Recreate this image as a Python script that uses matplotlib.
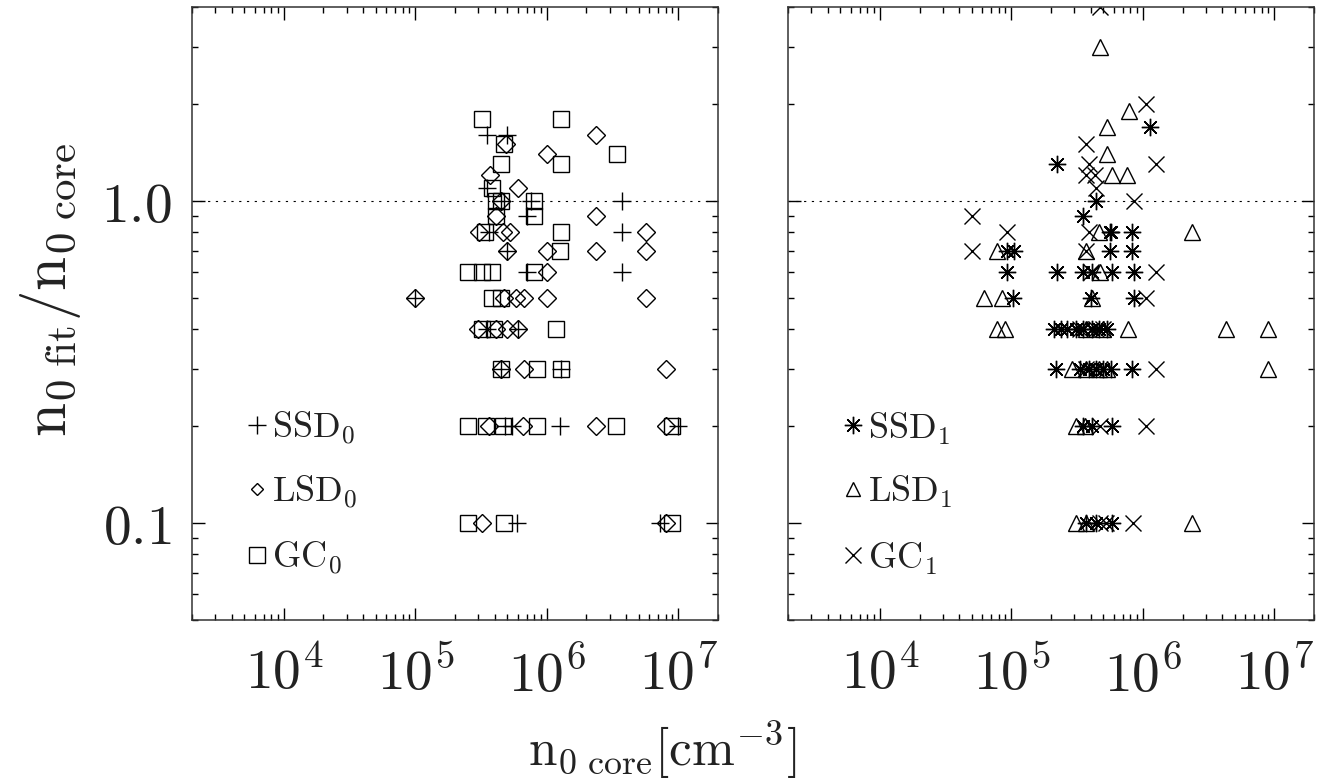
"""
plot.py - n0 fit / n0 core vs n0 core, two panels (order 0 and order 1 fits)
"""

import numpy as np
import matplotlib
matplotlib.use("Agg")
import matplotlib.pyplot as plt
from matplotlib.ticker import FixedLocator, FixedFormatter, LogLocator, NullFormatter

plt.rcParams["mathtext.fontset"] = "cm"
plt.rcParams["font.family"] = ["DejaVu Sans"]

# ---- data: n0 core [cm^-3] and ratio n0 fit / n0 core ----
# left panel (order 0)
ssd0_n = [3.5e5, 5.0e5, 3.5e5, 4.5e5, 7.6e5, 7.0e5, 3.65e5, 5.0e5, 7.0e5, 3.7e6, 3.7e6, 3.7e6,
          1.0e5, 3.5e5, 6.0e5, 4.5e5, 1.27e6, 4.8e5, 5.4e5, 1.25e6, 1.0e7, 5.9e5, 7.2e6]
ssd0_r = [1.6, 1.6, 1.1, 1.0, 1.0, 0.9, 0.8, 0.7, 0.6, 1.0, 0.8, 0.6,
          0.5, 0.4, 0.4, 0.3, 0.3, 0.2, 0.2, 0.2, 0.2, 0.1, 0.1]

lsd0_n = [4.9e5, 2.37e6, 1.0e6, 3.7e5, 6.0e5, 4.5e5, 4.1e5, 2.37e6, 3.07e5, 4.6e5, 5.2e5, 5.7e6,
          5.0e5, 1.0e6, 2.37e6, 5.7e6, 1.0e6, 1.0e5, 4.75e5, 5.85e5, 6.7e5, 1.0e6, 5.7e6,
          3.0e5, 4.1e5, 5.0e5, 6.0e5, 4.5e5, 6.7e5, 8.0e6, 3.65e5, 6.6e5, 2.37e6, 8.0e6,
          3.2e5, 8.0e6]
lsd0_r = [1.5, 1.6, 1.4, 1.2, 1.1, 1.0, 0.9, 0.9, 0.8, 0.8, 0.8, 0.8,
          0.7, 0.7, 0.7, 0.7, 0.6, 0.5, 0.5, 0.5, 0.5, 0.5, 0.5,
          0.4, 0.4, 0.4, 0.4, 0.3, 0.3, 0.3, 0.2, 0.2, 0.2, 0.2,
          0.1, 0.1]

gc0_n = [3.2e5, 1.27e6, 4.7e5, 4.5e5, 1.27e6, 3.4e6, 3.85e5, 4.1e5, 4.5e5, 8.0e5, 4.1e5, 8.0e5,
         3.4e5, 1.27e6, 1.25e6, 2.5e5, 3.23e5, 3.85e5, 8.0e5, 3.85e5, 4.5e5, 3.2e5, 3.98e5,
         1.18e6, 4.5e5, 8.4e5, 1.27e6, 2.5e5, 3.47e5, 4.6e5, 8.4e5, 3.37e6, 9.0e6, 2.5e5,
         4.75e5, 9.0e6]
gc0_r = [1.8, 1.8, 1.5, 1.3, 1.3, 1.4, 1.1, 1.0, 1.0, 1.0, 0.9, 0.9,
         0.8, 0.8, 0.7, 0.6, 0.6, 0.6, 0.6, 0.5, 0.5, 0.4, 0.4,
         0.4, 0.3, 0.3, 0.3, 0.2, 0.2, 0.2, 0.2, 0.2, 0.2, 0.1,
         0.1, 0.1]

# right panel (order 1)
ssd1_n = [2.24e5, 1.14e6, 4.4e5, 3.5e5, 5.6e5, 5.75e5, 8.2e5, 9.2e4, 1.04e5, 5.6e5, 8.2e5,
          9.2e4, 2.24e5, 3.5e5, 4.1e5, 5.85e5, 8.6e5, 1.02e5, 4.0e5, 8.6e5,
          2.12e5, 2.4e5, 2.66e5, 3.1e5, 3.5e5, 4.1e5, 4.6e5, 5.3e5,
          2.2e5, 3.3e5, 3.9e5, 4.4e5, 5.0e5, 5.75e5, 8.2e5,
          3.5e5, 4.1e5, 5.85e5, 3.7e5, 4.4e5, 5.85e5]
ssd1_r = [1.3, 1.7, 1.0, 0.9, 0.8, 0.8, 0.8, 0.7, 0.7, 0.7, 0.7,
          0.6, 0.6, 0.6, 0.6, 0.6, 0.6, 0.5, 0.5, 0.5,
          0.4, 0.4, 0.4, 0.4, 0.4, 0.4, 0.4, 0.4,
          0.3, 0.3, 0.3, 0.3, 0.3, 0.3, 0.3,
          0.2, 0.2, 0.2, 0.1, 0.1, 0.1]

lsd1_n = [4.75e5, 7.8e5, 5.3e5, 5.3e5, 5.8e5, 7.6e5, 4.6e5, 2.35e6, 7.8e4, 3.7e5, 4.7e5,
          6.2e4, 8.5e4, 4.1e5, 7.7e4, 8.9e4, 3.7e5, 5.0e5, 7.7e5, 4.3e6, 9.0e6,
          2.9e5, 3.7e5, 4.6e5, 5.3e5, 9.0e6, 3.1e5, 3.6e5, 3.1e5, 3.7e5, 2.35e6]
lsd1_r = [3.0, 1.9, 1.7, 1.4, 1.2, 1.2, 0.8, 0.8, 0.7, 0.7, 0.6,
          0.5, 0.5, 0.5, 0.4, 0.4, 0.4, 0.4, 0.4, 0.4, 0.4,
          0.3, 0.3, 0.3, 0.3, 0.3, 0.2, 0.2, 0.1, 0.1, 0.1]

gc1_n = [4.7e5, 1.06e6, 3.7e5, 3.9e5, 1.26e6, 3.7e5, 4.3e5, 4.4e5, 8.6e5, 5.0e4, 9.3e4,
         3.9e5, 5.0e4, 3.7e5, 1.26e6, 4.0e5, 1.06e6, 3.3e5, 4.4e5, 5.0e5, 1.26e6,
         3.7e5, 4.7e5, 1.06e6, 4.7e5, 5.2e5, 8.4e5]
gc1_r = [4.0, 2.0, 1.5, 1.3, 1.3, 1.2, 1.2, 1.1, 1.0, 0.9, 0.8,
         0.8, 0.7, 0.7, 0.6, 0.6, 0.5, 0.4, 0.4, 0.4, 0.3,
         0.3, 0.2, 0.2, 0.1, 0.1, 0.1]

XTICKS = [1e4, 1e5, 1e6, 1e7]
XTICK_LABELS = [r"$10^{4}$", r"$10^{5}$", r"$10^{6}$", r"$10^{7}$"]
YTICKS = [0.1, 1.0]
YTICK_LABELS = [r"$0.1$", r"$1.0$"]

ASTERISK = (8, 2, 0)


def style_axis(ax, show_ylabels):
    ax.set_xscale("log")
    ax.set_yscale("log")
    ax.set_xlim(2e3, 2e7)
    ax.set_ylim(0.05, 4.0)
    ax.xaxis.set_major_locator(FixedLocator(XTICKS))
    ax.xaxis.set_major_formatter(FixedFormatter(XTICK_LABELS))
    ax.xaxis.set_minor_locator(LogLocator(base=10, subs=np.arange(2, 10), numticks=30))
    ax.xaxis.set_minor_formatter(NullFormatter())
    ax.yaxis.set_major_locator(FixedLocator(YTICKS))
    ax.yaxis.set_major_formatter(FixedFormatter(YTICK_LABELS))
    ax.yaxis.set_minor_locator(LogLocator(base=10, subs=np.arange(2, 10), numticks=30))
    ax.yaxis.set_minor_formatter(NullFormatter())
    ax.tick_params(which="both", direction="in", top=True, right=True, width=1)
    ax.tick_params(which="major", length=9, labelsize=40, labelcolor="#222222")
    ax.tick_params(which="minor", length=4.5)
    ax.tick_params(axis="x", which="major", pad=20)
    ax.tick_params(axis="y", which="major", pad=15, labelleft=show_ylabels)
    for sp in ax.spines.values():
        sp.set_linewidth(1.1)
        sp.set_color("#333333")
    ax.axhline(1.0, color="black", linestyle=(0, (2, 5)), linewidth=0.8)


def legend_entry(ax, y, marker, ms, label):
    ax.plot([0.124], [y], marker=marker, ms=ms, mfc="none", mec="black", mew=1.0,
            linestyle="none", transform=ax.transAxes, clip_on=False)
    ax.text(0.152, y - 0.022, label, transform=ax.transAxes, fontsize=26,
            ha="left", va="baseline", color="#222222")


fig = plt.figure(figsize=(13.37, 7.83), dpi=100)
ax_l = fig.add_axes([0.1436, 0.2082, 0.3934, 0.7829])
ax_r = fig.add_axes([0.5894, 0.2082, 0.3934, 0.7829])

style_axis(ax_l, True)
style_axis(ax_r, False)

kw = dict(mfc="none", mec="black", mew=1.0, linestyle="none")
ax_l.plot(ssd0_n, ssd0_r, marker="+", ms=13, **kw)
ax_l.plot(lsd0_n, lsd0_r, marker="D", ms=8.7, **kw)
ax_l.plot(gc0_n, gc0_r, marker="s", ms=11.5, **kw)

ax_r.plot(ssd1_n, ssd1_r, marker=ASTERISK, ms=12.5, **kw)
ax_r.plot(lsd1_n, lsd1_r, marker="^", ms=11.5, **kw)
ax_r.plot(gc1_n, gc1_r, marker="x", ms=11, **kw)

legend_entry(ax_l, 0.318, "+", 13, r"$\mathrm{SSD}_{0}$")
legend_entry(ax_l, 0.214, "D", 6.5, r"$\mathrm{LSD}_{0}$")
legend_entry(ax_l, 0.106, "s", 11, r"$\mathrm{GC}_{0}$")

legend_entry(ax_r, 0.318, ASTERISK, 12.5, r"$\mathrm{SSD}_{1}$")
legend_entry(ax_r, 0.214, "^", 10, r"$\mathrm{LSD}_{1}$")
legend_entry(ax_r, 0.106, "x", 11, r"$\mathrm{GC}_{1}$")

fig.text(0.495, 0.042, r"$\mathrm{n_{0\ core}[cm^{-3}]}$", ha="center", va="center",
         fontsize=37, color="#222222")
fig.text(0.038, 0.63, r"$\mathrm{n_{0\ fit}/n_{0\ core}}$", ha="center", va="center",
         rotation=90, fontsize=44, color="#222222")

fig.savefig("out.png", dpi=100)
plt.close(fig)
